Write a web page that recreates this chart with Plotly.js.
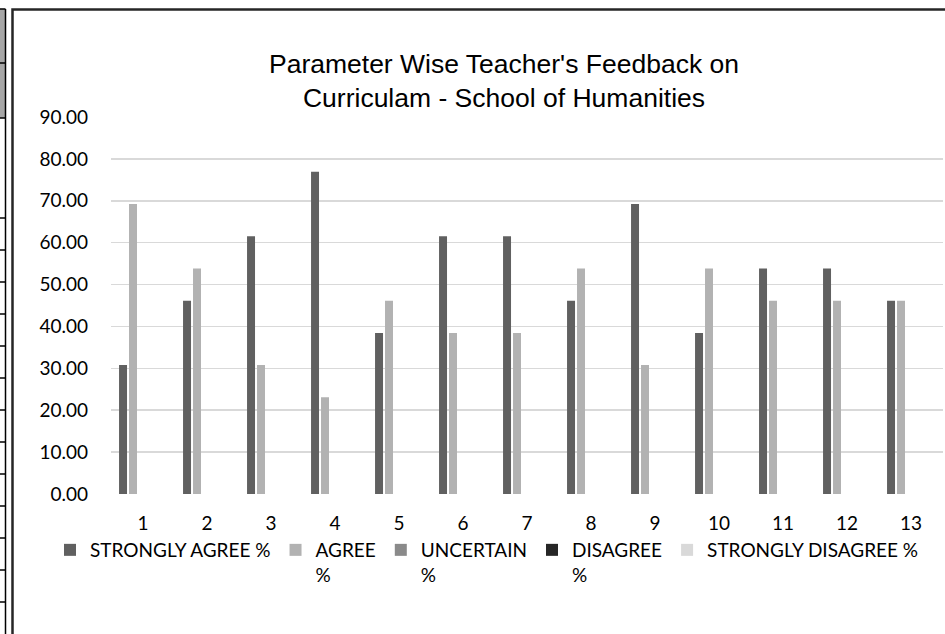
<!DOCTYPE html>
<html>
<head>
<meta charset="utf-8">
<script src="https://cdn.plot.ly/plotly-3.0.1.min.js"></script>
<style>html,body{margin:0;padding:0;background:#fff;}#chart{width:945px;height:634px;}</style>
</head>
<body>
<div id="chart"></div>
<script>
const categories = ['1','2','3','4','5','6','7','8','9','10','11','12','13'];
const seriesNames = ['STRONGLY AGREE %','AGREE<br>%','UNCERTAIN<br>%','DISAGREE<br>%','STRONGLY DISAGREE %'];
const stronglyAgree = [30.77,46.15,61.54,76.92,38.46,61.54,61.54,46.15,69.23,38.46,53.85,53.85,46.15];
const agree = [69.23,53.85,30.77,23.08,46.15,38.46,38.46,53.85,30.77,53.85,46.15,46.15,46.15];
const uncertain = [0,0,0,0,0,0,0,0,0,0,0,0,0];
const disagree = [0,0,0,0,0,0,0,0,0,0,0,0,0];
const stronglyDisagree = [0,0,0,0,0,0,0,0,0,0,0,0,0];
const yTicks = [0,10,20,30,40,50,60,70,80,90];
const yTickLabels = ['0.00','10.00','20.00','30.00','40.00','50.00','60.00','70.00','80.00','90.00'];

const colors = ['#606060','#b2b2b2','#8a8a8a','#262626','#d9d9d9'];
const values = [stronglyAgree, agree, uncertain, disagree, stronglyDisagree];

const W = 945, H = 634;
const L = 111, R = 2, T = 117, B = 140;
const pw = W - L - R, ph = H - T - B;
const px = x => (x - L) / pw;
const py = y => (H - B - y) / ph;
const FONT = 'Lato, Liberation Sans, sans-serif';

const traces = values.map((v, i) => ({
  type: 'bar', x: categories, y: v, name: seriesNames[i],
  marker: {color: colors[i], line: {width: 0}},
  hoverinfo: 'skip'
}));

const shapes = [];
// chart outer border
shapes.push({type:'rect', xref:'paper', yref:'paper', x0:px(12.5), x1:px(960), y0:py(9.5), y1:py(660),
  line:{color:'#262626', width:2.5}, fillcolor:'rgba(0,0,0,0)', layer:'above'});
// spreadsheet fragment at left
shapes.push({type:'rect', xref:'paper', yref:'paper', x0:px(-5), x1:px(5), y0:py(9), y1:py(118),
  line:{width:0}, fillcolor:'#a6a6a6', layer:'above'});
shapes.push({type:'line', xref:'paper', yref:'paper', x0:px(5.5), x1:px(5.5), y0:py(9), y1:py(660),
  line:{color:'#000', width:1.5}, layer:'above'});
const rowLines = [9,63,118,218,250,282,314,346,378,410,442,474,506,538,570,602];
rowLines.forEach(y => shapes.push({type:'line', xref:'paper', yref:'paper', x0:px(-5), x1:px(5.5), y0:py(y), y1:py(y),
  line:{color:'#000', width:1.5}, layer:'above'}));

const layout = {
  width: W, height: H,
  margin: {l: L, r: R, t: T, b: B, pad: 0, autoexpand: false},
  paper_bgcolor: '#fff', plot_bgcolor: '#fff',
  title: {
    text: "Parameter Wise Teacher's Feedback on<br>Curriculam - School of Humanities",
    font: {family: 'Liberation Sans, Arial, sans-serif', size: 26.5, color: '#000'},
    x: 504 / W, xanchor: 'center', y: 1 - 72.5 / H, yanchor: 'top'
  },
  barmode: 'group', bargap: 0.22, bargroupgap: 0.2,
  xaxis: {
    type: 'category', tickfont: {family: FONT, size: 19, color: '#000'},
    showgrid: false, zeroline: false, showline: false, ticks: '', ticklabelstandoff: 16, fixedrange: true
  },
  yaxis: {
    range: [0, 90], tickvals: yTicks, ticktext: yTickLabels,
    tickfont: {family: FONT, size: 19, color: '#000'},
    showgrid: true, gridcolor: '#d9d9d9', gridwidth: 1.5, zeroline: false, showline: false,
    ticks: '', ticklabelstandoff: 22, fixedrange: true
  },
  showlegend: true,
  legend: {
    orientation: 'h', x: px(50), xanchor: 'left', y: py(531), yanchor: 'top',
    font: {family: FONT, size: 19, color: '#000'},
    valign: 'top', traceorder: 'normal', bgcolor: 'rgba(0,0,0,0)'
  },
  shapes: shapes
};

Plotly.newPlot('chart', traces, layout, {displayModeBar: false, staticPlot: true});
</script>
</body>
</html>
